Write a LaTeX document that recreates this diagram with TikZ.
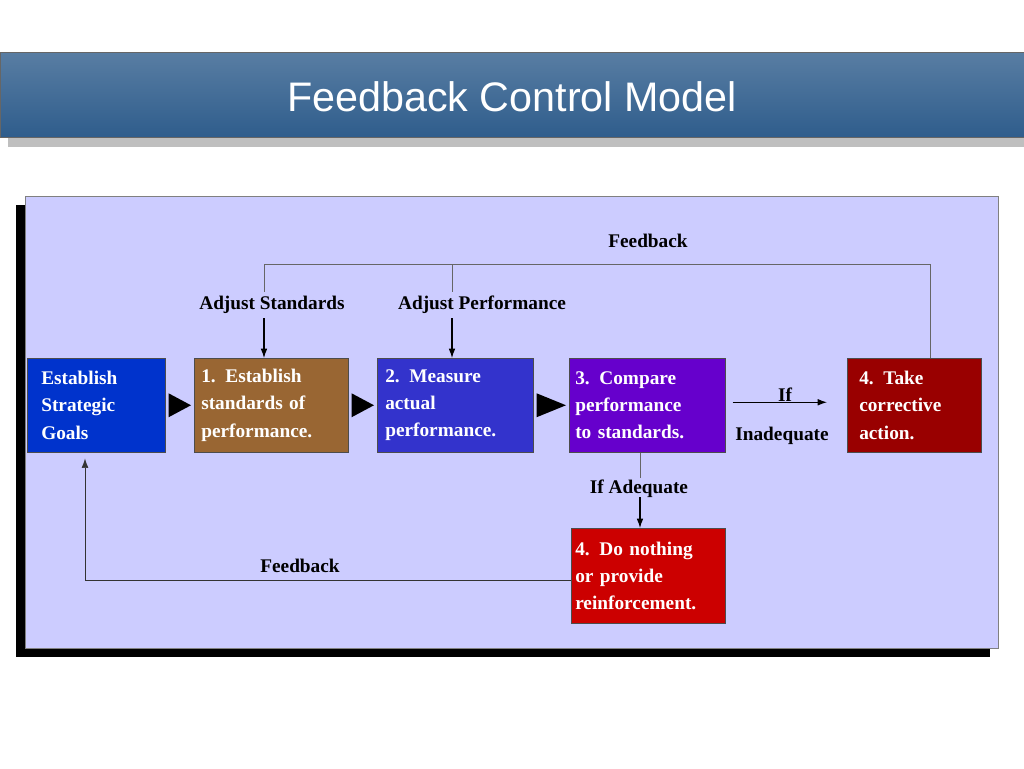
\documentclass[tikz,border=0pt]{standalone}
\usepackage{fontspec}
\setmainfont{Liberation Serif}
\newfontfamily\titlefont{Liberation Sans}
\usetikzlibrary{arrows.meta}
\definecolor{panelbg}{HTML}{CCCCFF}
\definecolor{titlebg}{HTML}{2F5D8C}
\tikzset{
  stepbox/.style={draw=black!70,thin,minimum height=94*0.0264cm,anchor=north west,
    text=white,font=\bfseries\fontsize{14.5}{20.5}\selectfont,align=left,inner sep=0pt},
  label/.style={font=\bfseries\fontsize{14.5}{17}\selectfont},
  every path/.style={>={Latex[length=7pt,width=5pt]}},
  flow/.style={draw=black!60,thin},
}
\begin{document}
\begin{tikzpicture}[x=0.0264cm,y=-0.0264cm]
  \useasboundingbox (0,0) rectangle (1024,768);
  % title bar
  \fill[black!25] (8,137) rectangle (1024,147);
  \shade[top color=titlebg!80!white,bottom color=titlebg,draw=black!60] (0,52) rectangle (1024,137);
  \node[text=white,font=\titlefont\fontsize{31}{36}\selectfont] (title) at (512,97) {Feedback Control Model};
  % panel
  \fill[black] (16,205) rectangle (990,657);
  \filldraw[fill=panelbg,draw=black!50] (25,196) rectangle (998,648);
  % boxes
  \node[stepbox,fill={rgb,255:red,0;green,51;blue,204},minimum width=137*0.0264cm,text width=110*0.0264cm,inner xsep=14*0.0264cm] (goals) at (27,358) {Establish\\Strategic\\Goals};
  \node[stepbox,fill={rgb,255:red,153;green,102;blue,51},minimum width=154*0.0264cm,text width=140*0.0264cm,inner xsep=6*0.0264cm] (s1) at (194,358) {1. Establish\\standards of\\performance.};
  \node[stepbox,fill={rgb,255:red,51;green,51;blue,204},minimum width=154*0.0264cm,text width=140*0.0264cm,inner xsep=8*0.0264cm] (s2) at (377,358) {2. Measure\\actual\\performance.};
  \node[stepbox,fill={rgb,255:red,102;green,0;blue,204},minimum width=154*0.0264cm,text width=144*0.0264cm,inner xsep=6*0.0264cm] (s3) at (569,358) {3. Compare\\performance\\to standards.};
  \node[stepbox,fill={rgb,255:red,153;green,0;blue,0},minimum width=128*0.0264cm,text width=110*0.0264cm,inner xsep=12*0.0264cm] (s4) at (847,358) {4. Take\\corrective\\action.};
  \node[stepbox,fill={rgb,255:red,204;green,0;blue,0},minimum width=154*0.0264cm,text width=146*0.0264cm,inner xsep=4*0.0264cm,minimum height=95*0.0264cm] (s5) at (571,528) {4. Do nothing\\or provide\\reinforcement.};
  % flow triangles
  \foreach \a/\b in {goals/s1,s1/s2,s2/s3}
    \fill[black] ([xshift=3*0.0264cm,yshift=-12*0.0264cm]\a.east) -- ([xshift=-3*0.0264cm]\b.west) -- ([xshift=3*0.0264cm,yshift=12*0.0264cm]\a.east) -- cycle;
  % inadequate
  \draw[->,thick] ([xshift=7*0.0264cm,yshift=3*0.0264cm]s3.east) -- ([xshift=-20*0.0264cm,yshift=3*0.0264cm]s4.west);
  \node[label] (if) at (785,395) {If};
  \node[label] (inad) at (782,436) {Inadequate};
  % top feedback
  \coordinate (ta) at (264,264);
  \coordinate (tb) at (452,264);
  \coordinate (tc) at (930,264);
  \draw[flow] (s4.north -| tc) -- (tc) -- (ta) -- (264,292);
  \draw[flow] (tb) -- (452,292);
  \node[label] (fbtop) at (648,241) {Feedback};
  \node[label] (adjs) at (272,305) {Adjust Standards};
  \node[label] (adjp) at (482,305) {Adjust Performance};
  \draw[->,thick] (264,318) -- (s1.north -| ta);
  \draw[->,thick] (452,318) -- (s2.north -| tb);
  % adequate
  \draw[flow] (s3.south -| 640,0) -- (640,478);
  \node[label] (adeq) at (639,489) {If Adequate};
  \draw[->,thick] (640,497) -- (s5.north -| 640,0);
  % bottom feedback
  \coordinate (bl) at (85,580);
  \draw[flow,->,black!80] (s5.west |- bl) -- (bl) -- ([yshift=-6*0.0264cm]goals.south -| bl);
  \node[label] (fbbot) at (300,566) {Feedback};
\end{tikzpicture}
\end{document}
